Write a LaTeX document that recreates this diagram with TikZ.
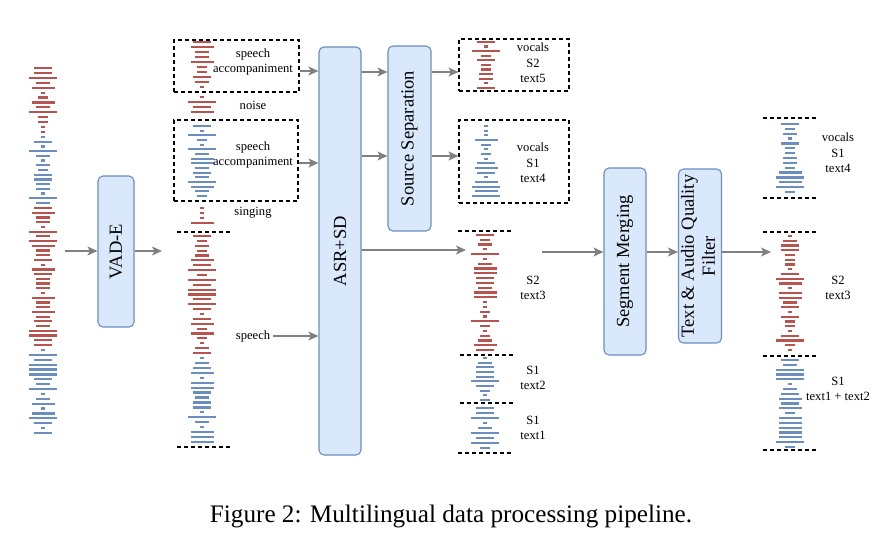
\documentclass[tikz,border=0pt]{standalone}
\usepackage{fontspec}
\setmainfont{Liberation Serif}
\usetikzlibrary{arrows.meta}
\definecolor{wred}{HTML}{B85450}
\definecolor{wblue}{HTML}{6C8EBF}
\definecolor{bfill}{HTML}{DAE8FC}
\definecolor{agray}{HTML}{808080}
% #1 cx, #2 y1, #3 y2, #4 colour, #5 seed
\newcommand\wavebars[5]{%
  \pgfmathsetseed{#5}%
  \pgfmathtruncatemacro\nbars{max(1,round((#3-#2)/4.8))}%
  \foreach \i in {0,...,\nbars}{%
    \pgfmathsetmacro\yy{#2+\i*(#3-#2)/\nbars}%
    \pgfmathsetmacro\ww{random(1,6)*2.3}%
    \draw[#4, line width=2.2pt] (#1-\ww,\yy) -- (#1+\ww,\yy);
  }}
\begin{document}
\begin{tikzpicture}[x=1pt,y=-1pt,
  box/.style={draw=wblue, fill=bfill, rounded corners=5pt, line width=1.1pt, inner sep=0pt, font=\fontsize{18.5}{22}\selectfont},
  dbox/.style={draw=black, dash pattern=on 4pt off 3pt, line width=1.1pt, inner sep=0pt},
  dline/.style={black, dash pattern=on 4pt off 3pt, line width=1.1pt},
  arr/.style={draw=agray, line width=1.2pt, -{Stealth[length=10pt,width=9pt,inset=2.5pt]}},
  lbl/.style={font=\fontsize{12.6}{15.5}\selectfont, align=center, inner sep=0pt}]
\useasboundingbox (0,0) rectangle (895,548);

% ---------- column 1 ----------
\wavebars{43}{68}{132}{wred}{11}
\wavebars{43}{137}{203}{wblue}{12}
\wavebars{43}{208}{345}{wred}{13}
\wavebars{43}{350}{433}{wblue}{14}

% ---------- boxes ----------
\node[box, minimum width=36pt, minimum height=151pt] (vad) at (116,251.5) {\rotatebox{90}{VAD-E}};
\node[box, minimum width=42pt, minimum height=408pt] (asr) at (340,251) {\rotatebox{90}{ASR+SD}};
\node[box, minimum width=43pt, minimum height=185pt] (ss) at (409.5,138.5) {\rotatebox{90}{Source Separation}};
\node[box, minimum width=42pt, minimum height=187pt] (sm) at (625,261.5) {\rotatebox{90}{Segment Merging}};
\node[box, minimum width=42pt, minimum height=174pt] (taqf) at (700,256) {\rotatebox{90}{\begin{tabular}{@{}c@{}}Text \& Audio Quality\\[-1pt]Filter\end{tabular}}};

% ---------- column 2 ----------
\node[dbox, minimum width=125pt, minimum height=52pt] (db1) at (236.5,66) {};
\node[dbox, minimum width=124pt, minimum height=81pt] (db2) at (236,160.5) {};
\wavebars{202}{42}{87}{wred}{21}
\wavebars{202}{97}{112}{wred}{22}
\wavebars{202}{126}{196}{wblue}{23}
\wavebars{202}{208}{223}{wred}{24}
\wavebars{202}{236}{353}{wred}{25}
\wavebars{202}{358}{442}{wblue}{26}
\draw[dline] (177,232) -- (231,232);
\draw[dline] (177,447) -- (231,447);
\node[lbl] (t1) at (253,62) {speech\\accompaniment};
\node[lbl] (t2) at (253,105) {noise};
\node[lbl] (t3) at (253,155) {speech\\accompaniment};
\node[lbl] (t4) at (253,213) {singing};
\node[lbl] (t5) at (253,336) {speech};

% ---------- column 3 ----------
\node[dbox, minimum width=110pt, minimum height=52pt] (db3) at (514,65) {};
\node[dbox, minimum width=110pt, minimum height=83pt] (db4) at (514,161.5) {};
\wavebars{486}{42}{88}{wred}{31}
\wavebars{486}{126}{196}{wblue}{32}
\wavebars{485}{235}{350}{wred}{33}
\wavebars{485}{358}{400}{wblue}{34}
\wavebars{485}{408}{448}{wblue}{35}
\draw[dline] (458,231) -- (513,231);
\draw[dline] (460,355) -- (513,355);
\draw[dline] (460,403) -- (513,403);
\draw[dline] (458,453) -- (513,453);
\node[lbl] (u1) at (533,63) {vocals\\S2\\text5};
\node[lbl] (u2) at (533,163) {vocals\\S1\\text4};
\node[lbl] (u3) at (533,288) {S2\\text3};
\node[lbl] (u4) at (533,378) {S1\\text2};
\node[lbl] (u5) at (533,428) {S1\\text1};

% ---------- column 4 ----------
\wavebars{790}{124}{192}{wblue}{41}
\wavebars{790}{236}{350}{wred}{42}
\wavebars{790}{360}{447}{wblue}{43}
\draw[dline] (763,118) -- (818,118);
\draw[dline] (763,198) -- (818,198);
\draw[dline] (763,232) -- (818,232);
\draw[dline] (763,356) -- (818,356);
\draw[dline] (763,450) -- (818,450);
\node[lbl] (v1) at (838,153) {vocals\\S1\\text4};
\node[lbl] (v2) at (838,288) {S2\\text3};
\node[lbl] (v3) at (838,389) {S1\\text1 + text2};

% ---------- connectors ----------
\coordinate (in0) at (65,251);
\coordinate (out0) at (162,251);
\coordinate (c3in) at (466,250);
\coordinate (c3out) at (542,252);
\coordinate (c4in) at (771,252);
\draw[arr] (in0) -- (vad.west |- in0);
\draw[arr] (vad.east |- out0) -- (out0);
\draw[arr] (db1.east |- 0,71) -- (asr.west |- 0,71);
\draw[arr] (db2.east |- 0,163) -- (asr.west |- 0,163);
\draw[arr] (t5.east) ++(3,0) -- (asr.west |- t5.east);
\draw[arr] (asr.east |- 0,72) -- (ss.west |- 0,72);
\draw[arr] (asr.east |- 0,156) -- (ss.west |- 0,156);
\draw[arr] (ss.east |- 0,72) -- (db3.west |- 0,72);
\draw[arr] (ss.east |- 0,156) -- (db4.west |- 0,156);
\draw[arr] (asr.east |- c3in) -- (c3in);
\draw[arr] (c3out) -- (sm.west |- c3out);
\draw[arr] (sm.east |- 0,252) -- (taqf.west |- 0,252);
\draw[arr] (taqf.east |- c4in) -- (c4in);

% ---------- caption ----------
\node[inner sep=0pt, font=\fontsize{25.2}{30}\selectfont] (cap) at (451,516) {Figure 2: Multilingual data processing pipeline.};
\end{tikzpicture}
\end{document}
